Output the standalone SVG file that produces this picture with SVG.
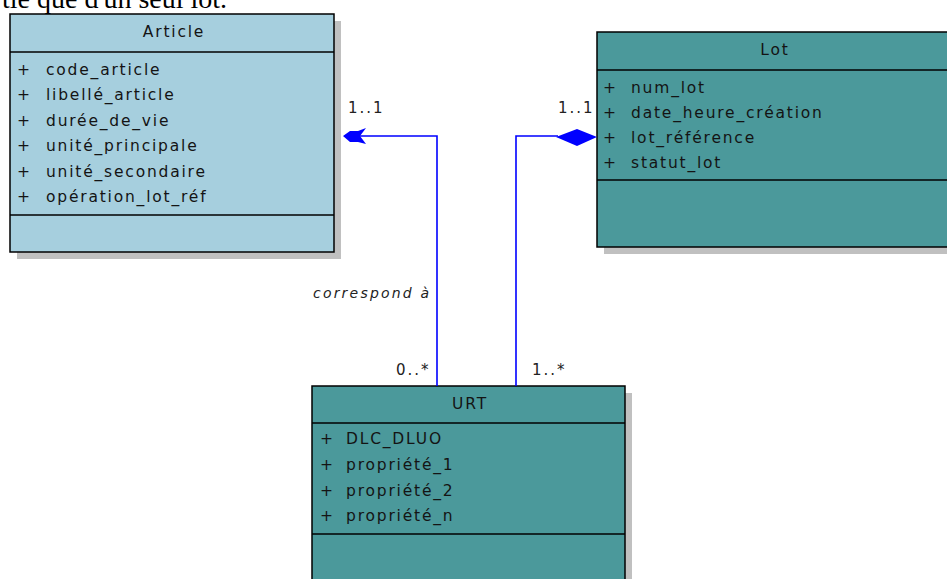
<svg xmlns="http://www.w3.org/2000/svg" width="947" height="579" viewBox="0 0 947 579">
<style>
.shadow{fill:#c0c0c0}
.box{stroke:#000;stroke-width:1.5}
.article{fill:#a6cfde}
.teal{fill:#4b999b}
.sep{stroke:#000;stroke-width:1.5}
.t{font-family:"DejaVu Sans",Verdana,sans-serif;font-size:15.5px;letter-spacing:1.8px;fill:#141414}
.hd{text-anchor:middle}
.conn{stroke:#0000ff;stroke-width:1.6;fill:none}
.mult{font-family:"DejaVu Sans",Verdana,sans-serif;font-size:15px;letter-spacing:2px;fill:#222}
.role{font-family:"DejaVu Sans",Verdana,sans-serif;font-size:14px;font-style:italic;letter-spacing:2.2px;fill:#222}
</style>
<rect width="947" height="579" fill="#fff"/>
<text x="2" y="8" font-family="'Liberation Serif','Times New Roman',serif" font-size="28" fill="#000">tie que d'un seul lot.</text>

<g id="Article">
<rect class="shadow" x="17" y="21" width="324" height="238"/>
<rect class="box article" x="10" y="14" width="324" height="238"/>
<line class="sep" x1="10" y1="52" x2="334" y2="52"/>
<line class="sep" x1="10" y1="215" x2="334" y2="215"/>
<text class="t hd" x="174" y="37">Article</text>
<text class="t" x="17" y="75">+</text><text class="t" x="46" y="75">code_article</text>
<text class="t" x="17" y="100">+</text><text class="t" x="46" y="100">libellé_article</text>
<text class="t" x="17" y="126">+</text><text class="t" x="46" y="126">durée_de_vie</text>
<text class="t" x="17" y="151">+</text><text class="t" x="46" y="151">unité_principale</text>
<text class="t" x="17" y="177">+</text><text class="t" x="46" y="177">unité_secondaire</text>
<text class="t" x="17" y="202">+</text><text class="t" x="46" y="202">opération_lot_réf</text>
</g>

<g id="Lot">
<rect class="shadow" x="604" y="39" width="352" height="215"/>
<rect class="box teal" x="597" y="32" width="352" height="215"/>
<line class="sep" x1="597" y1="70" x2="949" y2="70"/>
<line class="sep" x1="597" y1="180" x2="949" y2="180"/>
<text class="t hd" x="775" y="55">Lot</text>
<text class="t" x="603" y="93">+</text><text class="t" x="631" y="93">num_lot</text>
<text class="t" x="603" y="118">+</text><text class="t" x="631" y="118">date_heure_création</text>
<text class="t" x="603" y="143">+</text><text class="t" x="631" y="143">lot_référence</text>
<text class="t" x="603" y="168">+</text><text class="t" x="631" y="168">statut_lot</text>
</g>

<g id="URT">
<rect class="shadow" x="319" y="393" width="313" height="200"/>
<rect class="box teal" x="312" y="386" width="313" height="200"/>
<line class="sep" x1="312" y1="423" x2="625" y2="423"/>
<line class="sep" x1="312" y1="534" x2="625" y2="534"/>
<text class="t hd" x="470" y="409">URT</text>
<text class="t" x="320" y="444">+</text><text class="t" x="346" y="444">DLC_DLUO</text>
<text class="t" x="320" y="470">+</text><text class="t" x="346" y="470">propriété_1</text>
<text class="t" x="320" y="496">+</text><text class="t" x="346" y="496">propriété_2</text>
<text class="t" x="320" y="521">+</text><text class="t" x="346" y="521">propriété_n</text>
</g>

<g id="connectors">
<polyline class="conn" points="437,386 437,136 346,136"/>
<path d="M343,136 L350,131 L358,131 L366,128 L360,136 L366,144 L358,142 L350,142 Z" fill="#0000ff"/>
<polyline class="conn" points="516,386 516,136 558,136"/>
<path d="M556,137 L577,129 L597,137 L577,146 Z" fill="#0000ff"/>
<text class="mult" x="348" y="113">1..1</text>
<text class="mult" x="558" y="113">1..1</text>
<text class="mult" x="396" y="375">0..*</text>
<text class="mult" x="532" y="375">1..*</text>
<text class="role" x="313" y="298">correspond à</text>
</g>
</svg>
